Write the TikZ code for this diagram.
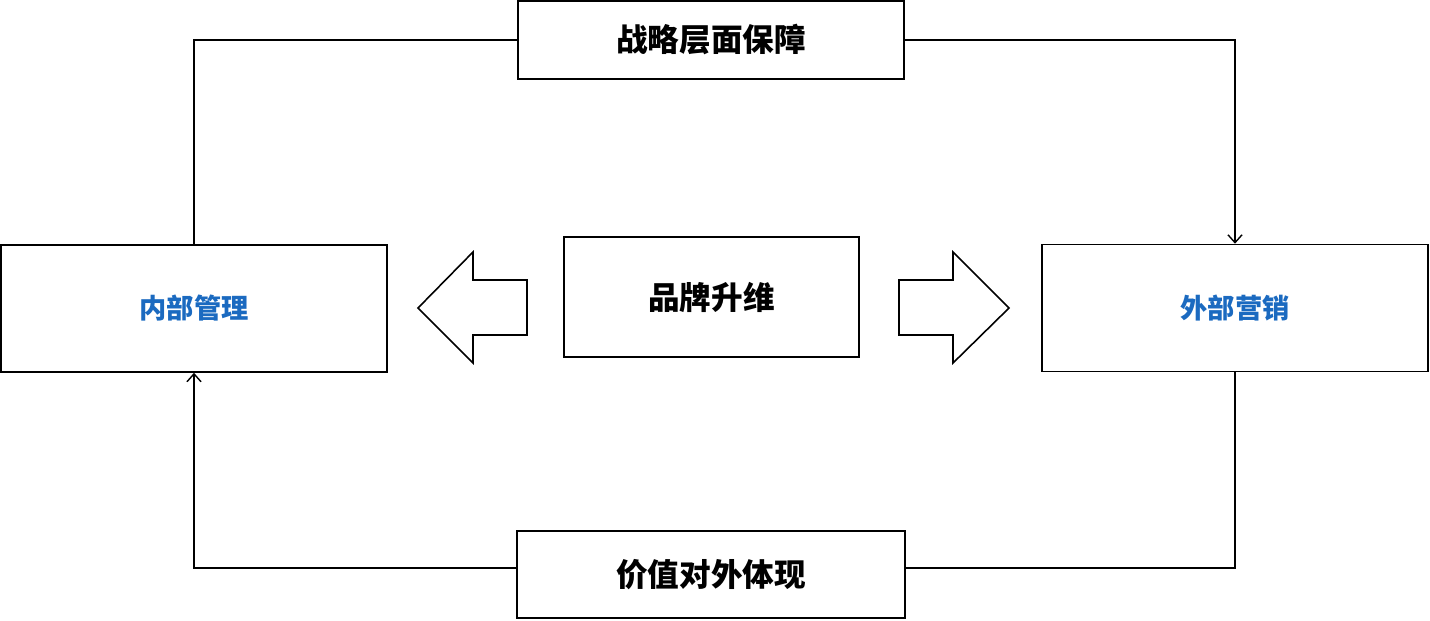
\documentclass[tikz,border=0pt]{standalone}
\usepackage{fontspec}
\setmainfont{Noto Sans CJK SC}
\usepackage{xcolor}
\usepackage{tikz}
\usetikzlibrary{arrows.meta, calc, positioning}

\definecolor{linkblue}{HTML}{1B6AC0}

\tikzset{
    box/.style={draw, line width=0.9pt, minimum width=7.72cm, minimum height=1.56cm,
        inner sep=0pt, font=\fontsize{18}{20}\selectfont\bfseries},
    sidebox/.style={box, minimum height=2.54cm, text=linkblue,
        font=\fontsize{15.5}{18}\selectfont\bfseries},
    link/.style={line width=0.8pt, -{Straight Barb[length=4.5pt, width=8pt]}}
}

\begin{document}
\begin{tikzpicture}[x=0.02cm, y=-0.02cm]
\useasboundingbox (0,0) rectangle (1430,620);

% Boxes
\node[box] (strategy) at (711,40) {战略层面保障};
\node[box, minimum width=7.76cm, minimum height=1.74cm] (value) at (711,574.5) {价值对外体现};
\node[sidebox] (inner) at (194,308.5) {内部管理};
\node[sidebox] (outer) at (1235,308) {\raisebox{-0.1cm}{外部营销}};
\node[box, minimum width=5.9cm, minimum height=2.4cm] (brand) at (711.5,297) {品牌升维};

% Loop connectors
\coordinate (valueR) at ($(value.east)+(0,-6.5)$);
\coordinate (valueL) at ($(value.west)+(0,-6.5)$);
\draw[line width=0.8pt] (inner.north) |- (strategy.west);
\draw[link] (strategy.east) -| (outer.north);
\draw[line width=0.8pt] (outer.south) |- (valueR);
\draw[link] (valueL) -| (inner.south);

% Block arrows
\draw[line width=0.9pt] (418,308) -- (473,252) -- (473,280) -- (527,280)
    -- (527,335) -- (473,335) -- (473,363) -- cycle;
\draw[line width=0.9pt] (1009,308) -- (953,252) -- (953,280) -- (899,280)
    -- (899,335) -- (953,335) -- (953,363) -- cycle;

\end{tikzpicture}
\end{document}
